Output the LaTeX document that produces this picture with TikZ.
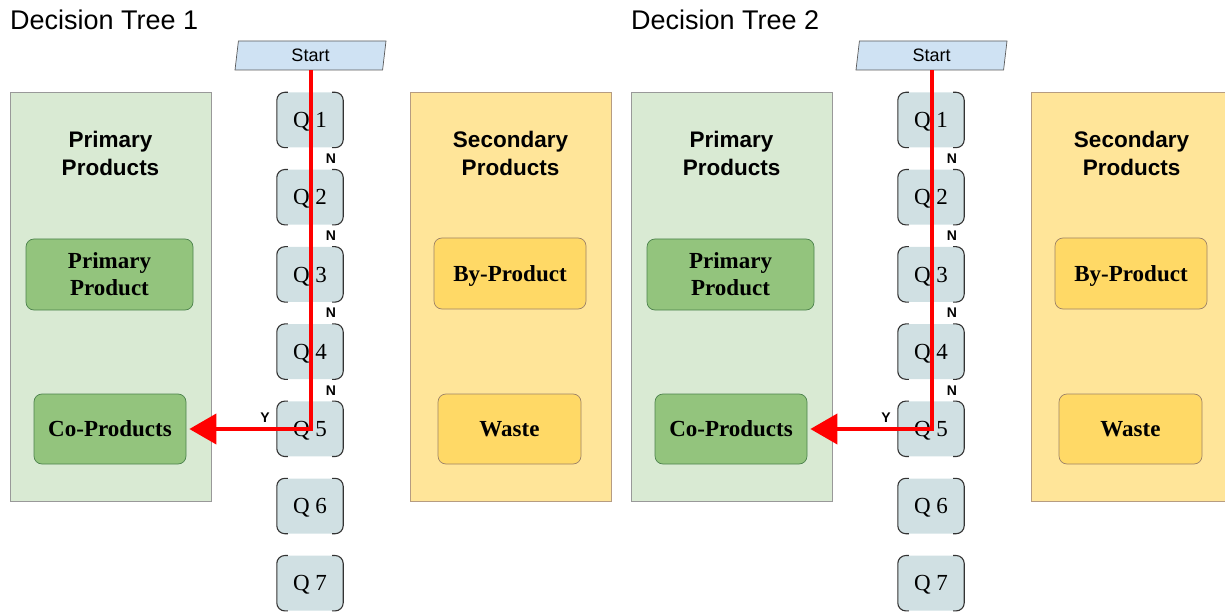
\documentclass[tikz,border=0pt]{standalone}
\usepackage{fontspec}
\setmainfont{Liberation Serif}
\setsansfont{Liberation Sans}
\usetikzlibrary{shapes.geometric,arrows.meta}

\definecolor{startblue}{HTML}{CFE2F3}
\definecolor{qblue}{HTML}{D0E0E3}
\definecolor{palegreen}{HTML}{D9EAD3}
\definecolor{midgreen}{HTML}{93C47D}
\definecolor{paleyellow}{HTML}{FFE599}
\definecolor{midyellow}{HTML}{FFD966}

\begin{document}
\begin{tikzpicture}[x=1pt, y=-1pt,
	title/.style={anchor=base west, inner sep=0pt, font=\sffamily\fontsize{27}{32}\selectfont},
	panel/.style={rectangle, minimum width=201pt, minimum height=409pt, inner sep=0pt, line width=0.8pt},
	heading/.style={align=center, font=\sffamily\bfseries\fontsize{22.5}{28}\selectfont},
	product/.style={rectangle, rounded corners=8pt, minimum height=71pt, inner sep=0pt, text depth=0pt, align=center, line width=0.7pt, font=\bfseries\fontsize{23}{27}\selectfont},
	startbox/.style={trapezium, trapezium left angle=75, trapezium right angle=105, trapezium stretches body, minimum width=151pt, minimum height=29pt, inner sep=0pt, fill=startblue, draw=black!65, line width=0.7pt, font=\sffamily\fontsize{18}{20}\selectfont},
	question/.style={rectangle, rounded corners=8pt, minimum width=66pt, minimum height=55pt, inner sep=0pt, text depth=0pt, fill=qblue, font=\fontsize{23}{26}\selectfont},
	bracket/.style={draw=black!80, line width=1.1pt, rounded corners=8pt},
	answer/.style={font=\sffamily\bfseries\fontsize{14}{16}\selectfont},
	path/.style={draw=red, line width=4pt, -{Triangle[length=27pt, width=30pt]}, shorten >=3pt}]

	\useasboundingbox (0,0) rectangle (1225,612);
	\clip (0,0) rectangle (1225,612);

	\foreach \t/\dx in {1/0, 2/621} {
	\begin{scope}[xshift=\dx pt]
		\node[title] (title\t) at (10,30) {Decision Tree \t};

		% panels
		\node[panel, fill=palegreen, draw=black!40] (primary\t) at (110.5,296.5) {};
		\node[panel, fill=paleyellow, draw=brown!70!black!60] (secondary\t) at (510.5,296.5) {};
		\node[heading] (primhead\t) at (110.5,153) {Primary\\Products};
		\node[heading] (sechead\t) at (510.5,153) {Secondary\\Products};

		\node[product, fill=midgreen, draw=green!30!black!70, minimum width=167pt] (primprod\t) at (109.5,274.5) {Primary\\Product};
		\node[product, fill=midgreen, draw=green!30!black!70, minimum width=152pt, minimum height=70pt] (coprod\t) at (110,429) {Co-Products};
		\node[product, fill=midyellow, draw=brown!60!black!70, minimum width=152pt] (byprod\t) at (510,273.5) {By-Product};
		\node[product, fill=midyellow, draw=brown!60!black!70, minimum width=143pt, minimum height=70pt] (waste\t) at (509.5,429) {Waste};

		% questions
		\node[startbox] (start\t) at (310.5,55.5) {Start};
		\foreach \i in {1,...,7} {
			\node[question] (q\t-\i) at (310,{42.8+77.2*\i}) {Q \i};
			\draw[bracket] ([xshift=11pt]q\t-\i.north west) -- (q\t-\i.north west) -- (q\t-\i.south west) -- ([xshift=11pt]q\t-\i.south west);
			\draw[bracket] ([xshift=-11pt]q\t-\i.north east) -- (q\t-\i.north east) -- (q\t-\i.south east) -- ([xshift=-11pt]q\t-\i.south east);
		}

		\foreach \i in {1,...,4}
			\node[answer] (no\t-\i) at (331,{81.4+77.2*\i}) {N};
		\node[answer] (yes\t) at (265,418) {Y};

		\path[path] (start\t.south) |- (coprod\t.east);
	\end{scope}
	}
\end{tikzpicture}
\end{document}
